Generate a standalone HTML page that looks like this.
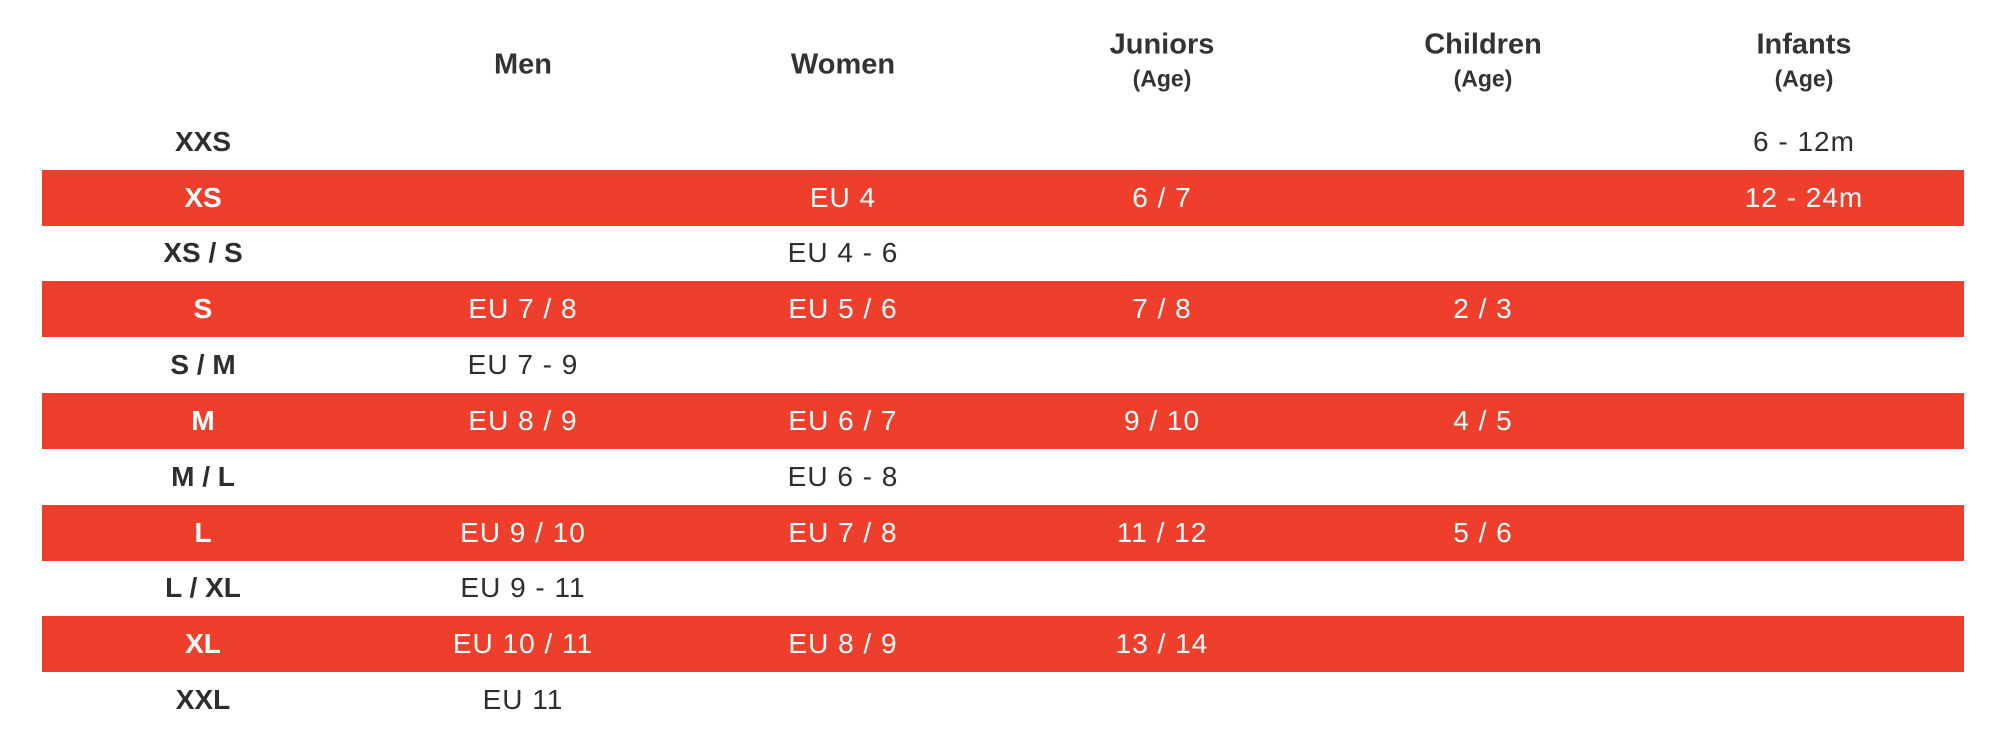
<!DOCTYPE html><html><head><style>
body{margin:0;width:2000px;height:755px;background:#fff;position:relative;overflow:hidden;font-family:"Liberation Sans",sans-serif}
.bar{position:absolute;left:42px;width:1922px;height:56px;background:#ee3f2c}
.t{position:absolute;transform:translate(-50%,-50%);white-space:nowrap;font-size:28px;color:#2e2e2e;letter-spacing:1px}
.h{font-weight:bold;font-size:29px;color:#333;letter-spacing:0}
.a{font-weight:bold;font-size:23px;color:#333;letter-spacing:0}
.l{font-weight:bold;font-size:28px;color:#2e2e2e;letter-spacing:0}
.w{color:#fff}
</style></head><body>
<div class="bar" style="top:170px"></div>
<div class="bar" style="top:281px"></div>
<div class="bar" style="top:393px"></div>
<div class="bar" style="top:505px"></div>
<div class="bar" style="top:616px"></div>
<div class="t h" style="left:523px;top:65px">Men</div>
<div class="t h" style="left:843px;top:65px">Women</div>
<div class="t h" style="left:1162px;top:45px">Juniors</div><div class="t a" style="left:1162px;top:79px">(Age)</div>
<div class="t h" style="left:1483px;top:45px">Children</div><div class="t a" style="left:1483px;top:79px">(Age)</div>
<div class="t h" style="left:1804px;top:45px">Infants</div><div class="t a" style="left:1804px;top:79px">(Age)</div>

<div class="t l" style="left:203px;top:142px">XXS</div>
<div class="t" style="left:1804px;top:142px">6 - 12m</div>

<div class="t l w" style="left:203px;top:198px">XS</div>
<div class="t w" style="left:843px;top:198px">EU 4</div>
<div class="t w" style="left:1162px;top:198px">6 / 7</div>
<div class="t w" style="left:1804px;top:198px">12 - 24m</div>

<div class="t l" style="left:203px;top:253px">XS / S</div>
<div class="t" style="left:843px;top:253px">EU 4 - 6</div>

<div class="t l w" style="left:203px;top:309px">S</div>
<div class="t w" style="left:523px;top:309px">EU 7 / 8</div>
<div class="t w" style="left:843px;top:309px">EU 5 / 6</div>
<div class="t w" style="left:1162px;top:309px">7 / 8</div>
<div class="t w" style="left:1483px;top:309px">2 / 3</div>

<div class="t l" style="left:203px;top:365px">S / M</div>
<div class="t" style="left:523px;top:365px">EU 7 - 9</div>

<div class="t l w" style="left:203px;top:421px">M</div>
<div class="t w" style="left:523px;top:421px">EU 8 / 9</div>
<div class="t w" style="left:843px;top:421px">EU 6 / 7</div>
<div class="t w" style="left:1162px;top:421px">9 / 10</div>
<div class="t w" style="left:1483px;top:421px">4 / 5</div>

<div class="t l" style="left:203px;top:477px">M / L</div>
<div class="t" style="left:843px;top:477px">EU 6 - 8</div>

<div class="t l w" style="left:203px;top:533px">L</div>
<div class="t w" style="left:523px;top:533px">EU 9 / 10</div>
<div class="t w" style="left:843px;top:533px">EU 7 / 8</div>
<div class="t w" style="left:1162px;top:533px">11 / 12</div>
<div class="t w" style="left:1483px;top:533px">5 / 6</div>

<div class="t l" style="left:203px;top:588px">L / XL</div>
<div class="t" style="left:523px;top:588px">EU 9 - 11</div>

<div class="t l w" style="left:203px;top:644px">XL</div>
<div class="t w" style="left:523px;top:644px">EU 10 / 11</div>
<div class="t w" style="left:843px;top:644px">EU 8 / 9</div>
<div class="t w" style="left:1162px;top:644px">13 / 14</div>

<div class="t l" style="left:203px;top:700px">XXL</div>
<div class="t" style="left:523px;top:700px">EU 11</div>
</body></html>
